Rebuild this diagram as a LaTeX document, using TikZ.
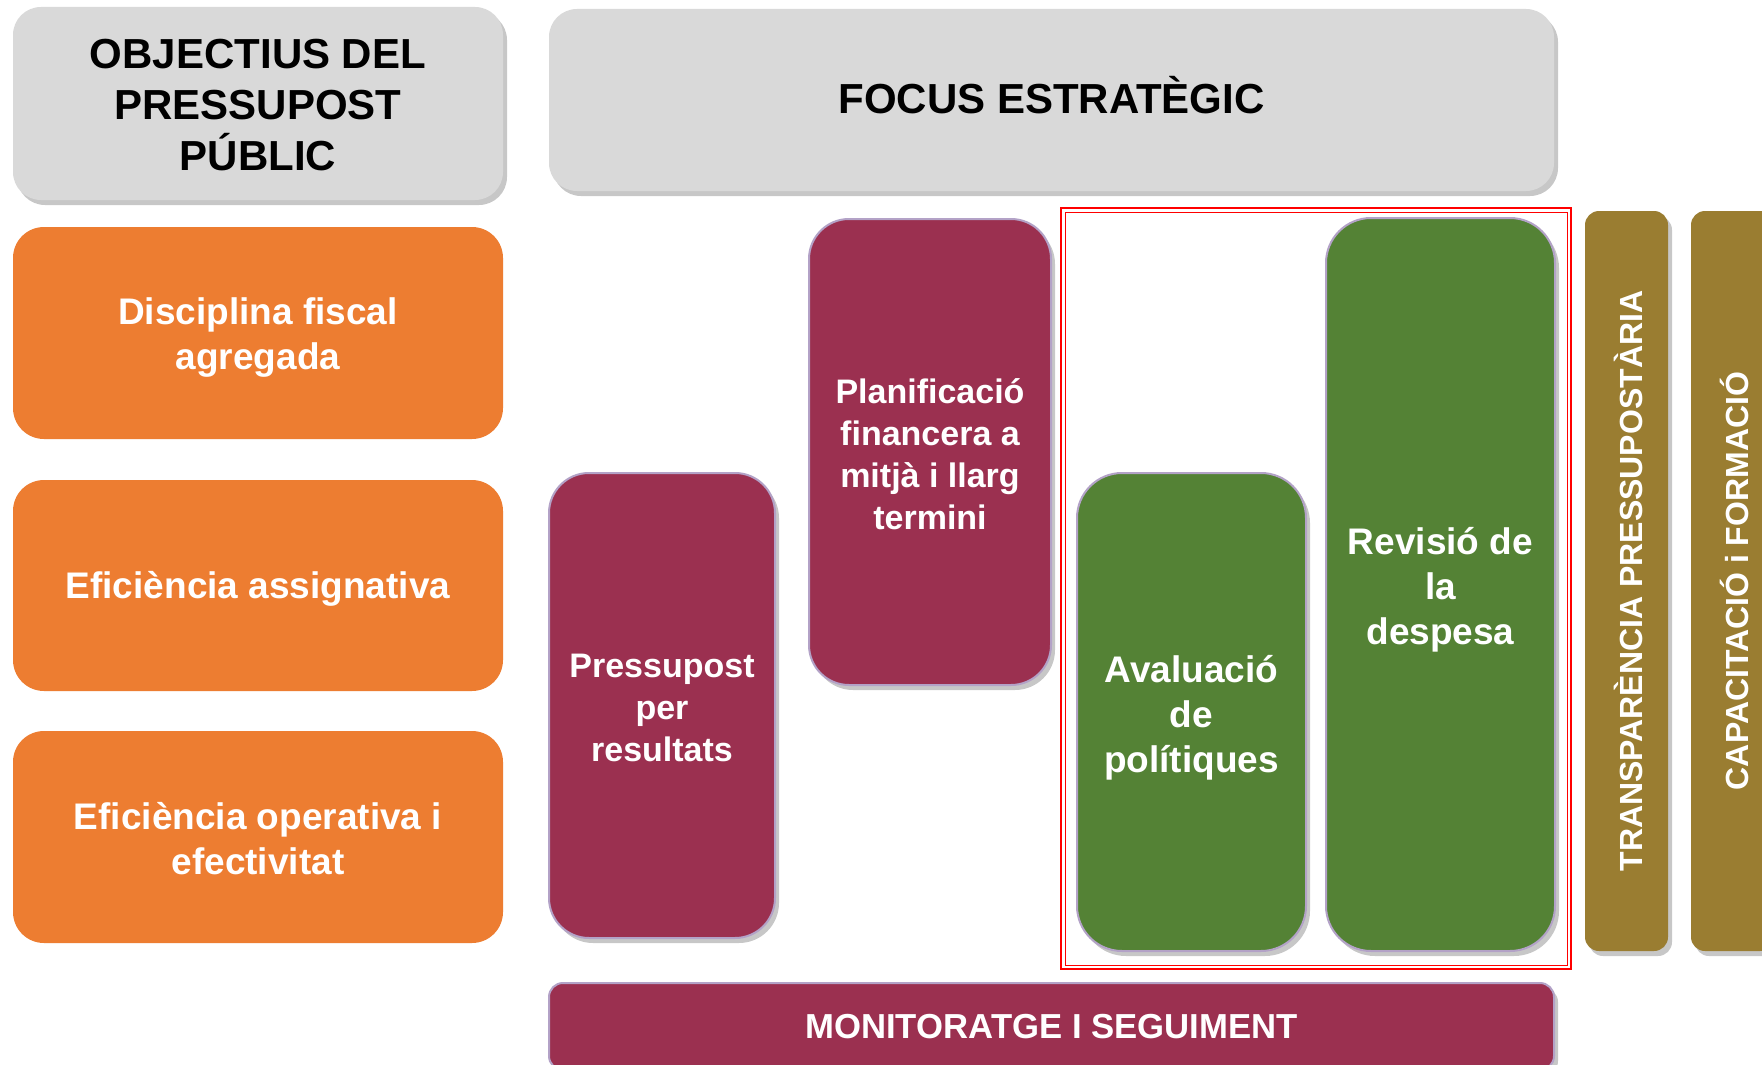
\documentclass[tikz,border=0pt]{standalone}
\usepackage{fontspec}
\setmainfont{Liberation Sans}
\usetikzlibrary{shadows}
\definecolor{hdrgray}{HTML}{D9D9D9}
\definecolor{objorange}{HTML}{ED7D31}
\definecolor{maroon}{HTML}{9B3050}
\definecolor{leafgreen}{HTML}{548235}
\definecolor{goldbar}{HTML}{9A7D31}
\definecolor{lavender}{HTML}{B3A2C7}
\definecolor{framered}{HTML}{FF0000}
\tikzset{
  softshadow/.style={drop shadow={shadow xshift=4pt, shadow yshift=-5pt, fill=black, opacity=0.22}},
  hdrbox/.style={fill=hdrgray, rounded corners=28pt, softshadow, inner sep=0pt},
  hdrtext/.style={align=center, inner sep=0pt, text=black, font=\fontsize{42}{51}\selectfont\bfseries},
  objbox/.style={fill=objorange, rounded corners=31pt, inner sep=0pt, minimum width=490pt},
  whitetext/.style={align=center, inner sep=0pt, text=white},
  objtext/.style={whitetext, font=\fontsize{37}{45}\selectfont\bfseries},
  tallbox/.style={draw=lavender, line width=2pt, rounded corners=40pt, softshadow, inner sep=0pt},
  mbox/.style={tallbox, fill=maroon},
  mtext/.style={whitetext, font=\fontsize{34}{42}\selectfont\bfseries},
  gbox/.style={tallbox, fill=leafgreen, rounded corners=45pt},
  gtext/.style={whitetext, font=\fontsize{37}{45}\selectfont\bfseries},
  barbox/.style={fill=goldbar, rounded corners=14pt, softshadow, inner sep=0pt,
     minimum width=83pt, minimum height=740pt},
  bartext/.style={rotate=90, text=white, inner sep=0pt, font=\fontsize{32}{38}\selectfont\bfseries},
}
\begin{document}
\begin{tikzpicture}[x=1pt,y=-1pt]
\useasboundingbox (0,0) rectangle (1762,1065);
\clip (0,0) rectangle (1762,1065);
\fill[white] (0,0) rectangle (1762,1065);

% headers
\node[hdrbox, minimum width=490pt, minimum height=193pt] (obj) at (258,103.5) {};
\node[hdrtext] (objt) at ([yshift=-1.5pt]obj.center) {OBJECTIUS DEL\\PRESSUPOST\\PÚBLIC};
\node[hdrbox, minimum width=1005pt, minimum height=182pt] (focus) at (1051.5,100) {};
\node[hdrtext] (focust) at ([yshift=4.5pt]focus.center) {FOCUS ESTRATÈGIC};

% objectives
\node[objbox, minimum height=212pt] (disc) at (258,333) {};
\node[objtext] (disct) at ([yshift=-5pt]disc.center) {Disciplina fiscal\\agregada};
\node[objbox, minimum height=211pt] (assig) at (258,585.5) {};
\node[objtext] (assigt) at ([yshift=-3pt]assig.center) {Eficiència assignativa};
\node[objbox, minimum height=212pt] (oper) at (258,837) {};
\node[objtext] (opert) at ([yshift=-2pt]oper.center) {Eficiència operativa i\\efectivitat};

% red double frame
\draw[framered, line width=2pt] (1061,208) rectangle (1571,969);
\draw[framered, line width=1pt] (1065,212) rectangle (1567,965);

% strategic focus boxes
\node[mbox, minimum width=226pt, minimum height=465pt] (ppr) at (662,705.5) {};
\node[mtext] (pprt) at ([yshift=-2pt]ppr.center) {Pressupost\\per\\resultats};
\node[mbox, minimum width=242pt, minimum height=466pt] (plan) at (930,452) {};
\node[mtext] (plant) at ([yshift=-2pt]plan.center) {Planificació\\financera a\\mitjà i llarg\\termini};
\node[gbox, minimum width=229pt, minimum height=478pt] (aval) at (1191.5,712) {};
\node[gtext] (avalt) at ([yshift=-5.5pt]aval.center) {Avaluació\\de\\polítiques};
\node[gbox, minimum width=229pt, minimum height=733pt] (rev) at (1440.5,584.5) {};
\node[gtext] (revt) at ([yshift=-5.5pt]rev.center) {Revisió de\\la\\despesa};

% vertical bars
\node[barbox] (transp) at (1626.5,581) {};
\node[bartext] (transpt) at ([xshift=2pt]transp.center) {TRANSPARÈNCIA PRESSUPOSTÀRIA};
\node[barbox] (capac) at (1732.5,581) {};
\node[bartext] (capact) at ([xshift=2pt]capac.center) {CAPACITACIÓ i FORMACIÓ};

% monitoring
\node[tallbox, fill=maroon, rounded corners=14pt, minimum width=1005pt, minimum height=87pt] (mon) at (1051.5,1026.5) {};
\node[whitetext, font=\fontsize{34.7}{40}\selectfont\bfseries] (mont) at (mon.center) {MONITORATGE I SEGUIMENT};
\end{tikzpicture}
\end{document}
